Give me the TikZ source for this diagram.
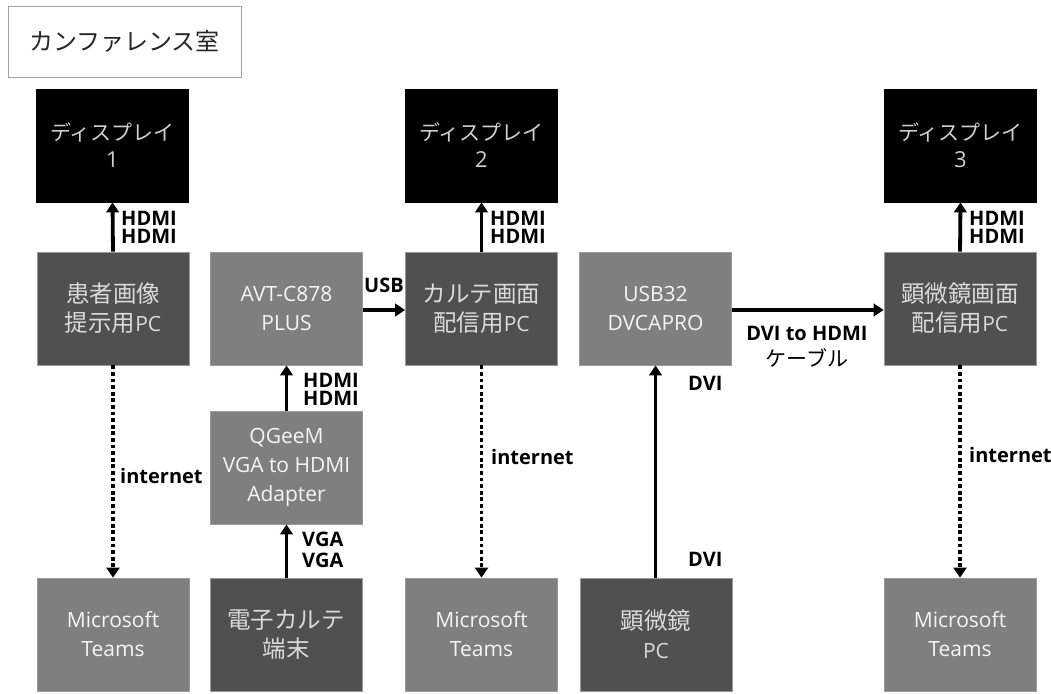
\documentclass[tikz,border=0pt]{standalone}
\usepackage{fontspec}
\setmainfont{Open Sans}
\newfontfamily\jp{Noto Sans CJK JP}
\usetikzlibrary{arrows.meta}
\definecolor{darkbox}{HTML}{505050}
\definecolor{lightbox}{HTML}{7F7F7F}
\definecolor{boxline}{HTML}{9A9A9A}
\definecolor{darktext}{HTML}{DADADA}
\definecolor{lighttext}{HTML}{F5F5F5}
\definecolor{disptext}{HTML}{D0D0D0}
\definecolor{titleline}{HTML}{A0A0A0}
\begin{document}
\begin{tikzpicture}[x=1pt,y=-1pt,
  base/.style={rectangle, minimum width=152pt, minimum height=113pt, align=center,
    inner sep=0pt, line width=0.8pt, draw=boxline,
    font=\fontsize{21}{29}\selectfont},
  darkb/.style={base, fill=darkbox, text=darktext},
  lightb/.style={base, fill=lightbox, text=lighttext},
  disp/.style={base, fill=black, draw=black, text=disptext,
    font=\jp\fontsize{21}{27}\selectfont},
  conn/.style={line width=3.8pt, -{Triangle[length=10pt,width=12.5pt]}},
  net/.style={line width=3.8pt, dash pattern=on 3.8pt off 2.8pt,
    -{Triangle[length=10pt,width=13pt]}},
  lbl/.style={font=\bfseries\fontsize{20}{18}\selectfont, anchor=west,
    inner sep=0pt, align=left, text=black}
]
\useasboundingbox (0,0) rectangle (1051,693);
\fill[white] (0,0) rectangle (1051,693);

% title
\node[draw=titleline, line width=0.8pt, minimum width=233pt, minimum height=71pt,
  inner sep=0pt, font=\jp\fontsize{24}{24}\selectfont, text={black!85}]
  (title) at (124.5,41.5) {カンファレンス室};

% displays
\node[disp] (d1) at (112.5,145.5) {ディスプレイ\\{\fontspec{Open Sans}\fontsize{22}{27}\selectfont 1}};
\node[disp] (d2) at (481.5,145.5) {ディスプレイ\\{\fontspec{Open Sans}\fontsize{22}{27}\selectfont 2}};
\node[disp] (d3) at (960.5,145.5) {ディスプレイ\\{\fontspec{Open Sans}\fontsize{22}{27}\selectfont 3}};

% second row
\node[darkb] (pc1) at (113,308.5) {{\jp\fontsize{23.5}{29}\selectfont 患者画像}\\{\jp\fontsize{23.5}{29}\selectfont 提示用}PC};
\node[lightb] (avt) at (286.5,308.5) {AVT-C878\\PLUS};
\node[darkb] (karte) at (481.5,308.5) {{\jp\fontsize{23.5}{29}\selectfont カルテ画面}\\{\jp\fontsize{23.5}{29}\selectfont 配信用}PC};
\node[lightb] (usb) at (655.5,308.5) {USB32\\DVCAPRO};
\node[darkb] (kenbi) at (960,308.5) {{\jp\fontsize{23.5}{29}\selectfont 顕微鏡画面}\\{\jp\fontsize{23.5}{29}\selectfont 配信用}PC};

% adapter
\node[lightb] (qgeem) at (286.5,467.5) {QGeeM\\VGA to HDMI\\Adapter};

% bottom row
\node[lightb] (t1) at (113,634.5) {Microsoft\\Teams};
\node[darkb] (denshi) at (286,634.5) {{\jp\fontsize{23.5}{29}\selectfont 電子カルテ}\\{\jp\fontsize{23.5}{29}\selectfont 端末}};
\node[lightb] (t2) at (481.5,634.5) {Microsoft\\Teams};
\node[darkb] (micpc) at (656,634.5) {{\jp\fontsize{23.5}{29}\selectfont 顕微鏡}\\PC};
\node[lightb] (t3) at (960,634.5) {Microsoft\\Teams};

% connectors
\draw[conn] (pc1.north) -- (d1.south);
\draw[conn] (karte.north) -- (d2.south);
\draw[conn] (kenbi.north) -- (d3.south);
\draw[conn] (qgeem.north) -- (avt.south);
\draw[conn] (denshi.north -| qgeem.north) -- (qgeem.south);
\draw[conn] ([yshift=-1.5pt]avt.east) -- ([yshift=-1.5pt]karte.west);
\draw[conn] ([yshift=-1.5pt]usb.east) -- ([yshift=-1.5pt]kenbi.west);
\draw[conn] (micpc.north -| usb.south) -- (usb.south);
\draw[net] (pc1.south) -- (t1.north);
\draw[net] (karte.south) -- (t2.north);
\draw[net] (kenbi.south) -- (t3.north);

% labels
\node[lbl] (l1) at (121,227.5) {HDMI\\HDMI};
\node[lbl] (l2) at (490,227.5) {HDMI\\HDMI};
\node[lbl] (l3) at (969,227.5) {HDMI\\HDMI};
\node[lbl] (l4) at (303,389) {HDMI\\HDMI};
\node[lbl, font=\bfseries\fontsize{20}{21}\selectfont] (l5) at (302,550) {VGA\\VGA};
\node[lbl] (l6) at (364,285) {USB};
\node[lbl] (l7) at (120,476) {internet};
\node[lbl] (l8) at (491,457) {internet};
\node[lbl] (l9) at (969,455) {internet};
\node[lbl] (l10) at (688,383) {DVI};
\node[lbl] (l11) at (688,559) {DVI};
\node[anchor=base, inner sep=0pt, text=black, font=\bfseries\fontsize{20}{20}\selectfont]
  (l12) at (807,340) {DVI to HDMI};
\node[anchor=base, inner sep=0pt, text=black, font=\jp\fontsize{21}{21}\selectfont]
  (l13) at (807,366) {ケーブル};
\end{tikzpicture}
\end{document}
